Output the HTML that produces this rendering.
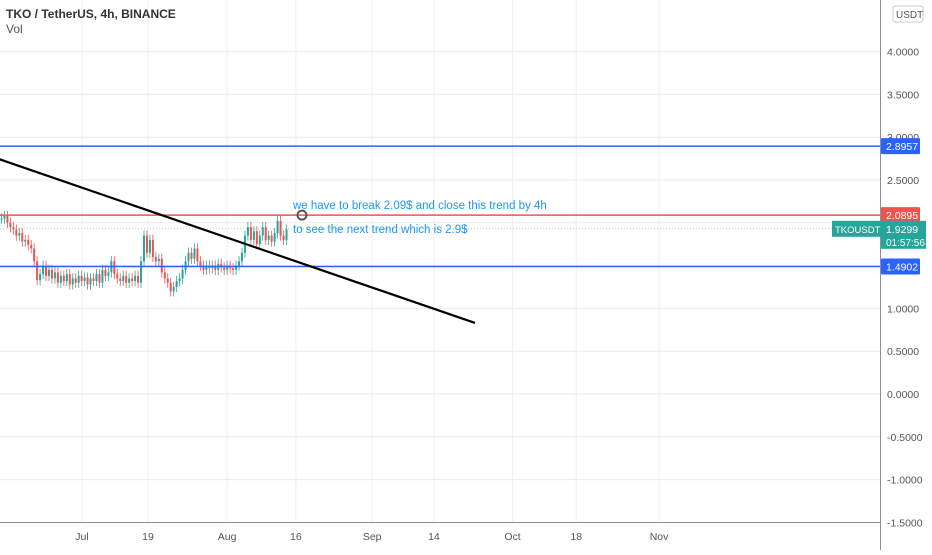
<!DOCTYPE html>
<html><head><meta charset="utf-8"><style>
body{margin:0;background:#fff;font-family:"Liberation Sans",sans-serif}
svg text{font-family:"Liberation Sans",sans-serif}
</style></head><body>
<svg id="c" width="932" height="550" xmlns="http://www.w3.org/2000/svg"></svg>
<script>
const priceTicks=[4.0,3.5,3.0,2.5,2.0,1.5,1.0,0.5,0.0,-0.5,-1.0,-1.5];
const tickLabels=["4.0000","3.5000","3.0000","2.5000","2.0000","1.5000","1.0000","0.5000","0.0000","-0.5000","-1.0000","-1.5000"];
const dateLabels=["Jul","19","Aug","16","Sep","14","Oct","18","Nov"];
const dateDays=[0,14.1,31,45.7,62,75.2,92,105.6,123.3];
const closes=[2.05,2.08,2.0,1.95,1.92,1.85,1.88,1.78,1.80,1.74,1.70,1.55,1.33,1.40,1.50,1.38,1.45,1.35,1.42,1.30,1.38,1.32,1.40,1.28,1.35,1.30,1.38,1.32,1.36,1.28,1.35,1.32,1.40,1.30,1.45,1.38,1.42,1.55,1.40,1.35,1.32,1.38,1.30,1.35,1.32,1.38,1.30,1.55,1.85,1.65,1.80,1.60,1.55,1.58,1.42,1.35,1.30,1.20,1.25,1.32,1.35,1.45,1.55,1.65,1.58,1.70,1.55,1.50,1.45,1.50,1.47,1.50,1.45,1.52,1.48,1.45,1.50,1.47,1.45,1.50,1.55,1.65,1.85,1.95,1.80,1.90,1.75,1.85,1.95,1.80,1.85,1.78,1.88,2.02,1.85,1.80,1.92];
const levels=[2.8957,2.0895,1.4902];
const levelColors=["#2962ff","#ef5350","#2962ff"];
const lastPrice=1.9299;
const trendline=[[-5,2.76],[475,0.83]];

const svg=document.getElementById('c');
const NS="http://www.w3.org/2000/svg";
const y=p=>394-p*85.6;
const xDay=d=>82+d*4.68;
function el(t,a,parent){const e=document.createElementNS(NS,t);for(const k in a)e.setAttribute(k,a[k]);(parent||svg).appendChild(e);return e;}

priceTicks.forEach((p,i)=>{
 const g=el('line',{x1:0,x2:880,y1:y(p),y2:y(p),stroke:'#e8ebf0','stroke-width':1});
 
 
});
dateDays.forEach(d=>{
 const g=el('line',{x1:xDay(d),x2:xDay(d),y1:0,y2:522,stroke:'#eef0f3','stroke-width':1});
 
 
});
let a=el('line',{x1:880.5,x2:880.5,y1:0,y2:550,stroke:'#8a8f98'});


a=el('line',{x1:0,x2:880,y1:522.5,y2:522.5,stroke:'#8a8f98'});


priceTicks.forEach((p,i)=>{
 const t=el('text',{x:887,y:y(p)+4,'font-size':10.5,fill:'#555'});t.textContent=tickLabels[i];
 
 
});
dateLabels.forEach((l,i)=>{
 const t=el('text',{x:xDay(dateDays[i]),y:540,'font-size':10.5,fill:'#555','text-anchor':'middle'});t.textContent=l;
 
 
});
const step=288/closes.length;
closes.forEach((c,i)=>{
 const o=i?closes[i-1]:c;const col=c>=o?'#26a69a':'#ef5350';
 const cx=i*step+step/2;
 const hi=Math.max(o,c)+0.06,lo=Math.min(o,c)-0.06;
 const w=el('line',{x1:cx,x2:cx,y1:y(hi),y2:y(lo),stroke:col,'stroke-width':0.8});
 
 
 const b=el('rect',{x:cx-1,y:y(Math.max(o,c)),width:2,height:Math.max(1,Math.abs(y(o)-y(c))),fill:col});
 
 
});
let lp=el('line',{x1:0,x2:832,y1:y(lastPrice),y2:y(lastPrice),stroke:'#9fd6d0','stroke-dasharray':'1 2','stroke-width':1});


levels.forEach((p,i)=>{
 const l=el('line',{x1:0,x2:880,y1:y(p),y2:y(p),stroke:levelColors[i],'stroke-width':1.5});
 
 
 const r=el('rect',{x:881,y:y(p)-8,width:39,height:16,fill:levelColors[i],rx:1});
 
 
 const t=el('text',{x:886,y:y(p)+4,'font-size':10.5,fill:'#fff'});t.textContent=p.toFixed(4);
 
 
});
let tl=el('line',{x1:trendline[0][0],x2:trendline[1][0],y1:y(trendline[0][1]),y2:y(trendline[1][1]),stroke:'#000','stroke-width':2.2});


let r1=el('rect',{x:832,y:y(lastPrice)-8,width:49,height:16,fill:'#26a69a'});


let t1=el('text',{x:835,y:y(lastPrice)+4,'font-size':9.5,fill:'#fff'});t1.textContent='TKOUSDT';


let r2=el('rect',{x:881,y:y(lastPrice)-8,width:45,height:28,fill:'#26a69a'});


let t2=el('text',{x:886,y:y(lastPrice)+4,'font-size':10.5,fill:'#fff'});t2.textContent=lastPrice.toFixed(4);


let t3=el('text',{x:886,y:y(lastPrice)+17,'font-size':10,fill:'#fff'});t3.textContent='01:57:56';


let n1=el('text',{x:293,y:209,'font-size':11.5,fill:'#2196f3'});n1.textContent='we have to break 2.09$ and close this trend by 4h';


let n2=el('text',{x:293,y:233,'font-size':11.5,fill:'#2196f3'});n2.textContent='to see the next trend which is 2.9$';


let ci=el('circle',{cx:302,cy:y(2.0895),r:4.5,fill:'none',stroke:'#555','stroke-width':2});


let h=el('text',{x:6,y:18,'font-size':12,'font-weight':'bold',fill:'#333'});h.textContent='TKO / TetherUS, 4h, BINANCE';


let v=el('text',{x:6,y:33,'font-size':12,fill:'#555'});v.textContent='Vol';


let ub=el('rect',{x:893,y:6,width:30,height:16,fill:'#fff',stroke:'#ccc',rx:2});


let ut=el('text',{x:896,y:18,'font-size':10,fill:'#555'});ut.textContent='USDT';


</script>
</body></html>
